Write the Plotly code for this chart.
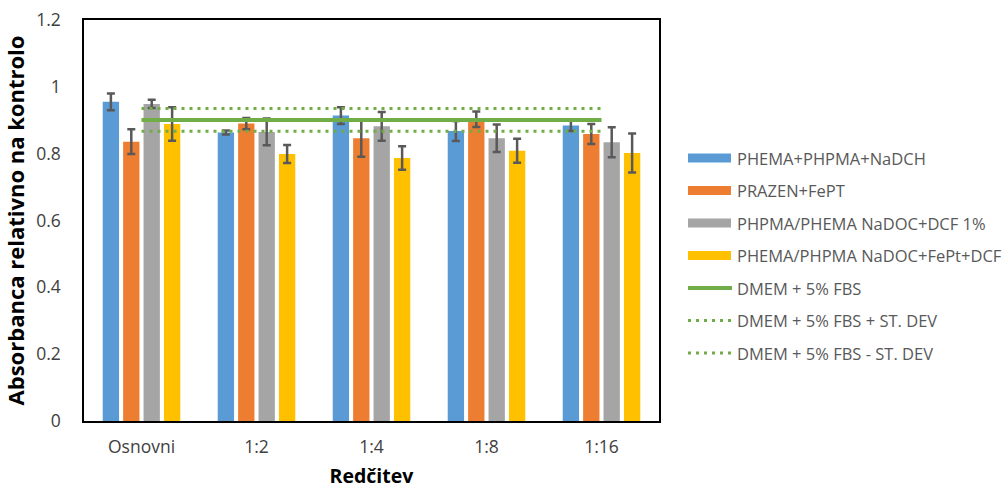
import plotly.graph_objects as go

categories = ["Osnovni", "1:2", "1:4", "1:8", "1:16"]

series_names = [
    "PHEMA+PHPMA+NaDCH",
    "PRAZEN+FePT",
    "PHPMA/PHEMA NaDOC+DCF 1%",
    "PHEMA/PHPMA NaDOC+FePt+DCF",
]
phema_phpma_nadch = [0.955, 0.863, 0.914, 0.868, 0.884]
phema_phpma_nadch_err = [0.025, 0.006, 0.025, 0.030, 0.016]
prazen_fept = [0.836, 0.890, 0.846, 0.903, 0.859]
prazen_fept_err = [0.037, 0.017, 0.055, 0.023, 0.030]
phpma_nadoc_dcf = [0.949, 0.865, 0.882, 0.846, 0.834]
phpma_nadoc_dcf_err = [0.012, 0.040, 0.043, 0.041, 0.045]
phema_nadoc_fept_dcf = [0.889, 0.799, 0.787, 0.809, 0.802]
phema_nadoc_fept_dcf_err = [0.050, 0.027, 0.035, 0.036, 0.058]

line_names = ["DMEM + 5% FBS", "DMEM + 5% FBS + ST. DEV", "DMEM + 5% FBS - ST. DEV"]
dmem = [0.901, 0.901, 0.901, 0.901, 0.901]
dmem_plus = [0.935, 0.935, 0.935, 0.935, 0.935]
dmem_minus = [0.867, 0.867, 0.867, 0.867, 0.867]

y_ticks = [0, 0.2, 0.4, 0.6, 0.8, 1.0, 1.2]
y_ticktext = ["0", "0.2", "0.4", "0.6", "0.8", "1", "1.2"]

bar_colors = ["#5B9BD5", "#ED7D31", "#A5A5A5", "#FFC000"]
line_color = "#70AD47"
err_color = "#595959"
tick_color = "#404040"
FONT = "Open Sans"

W, H = 1005, 489
ML, MR, MT, MB = 84, 346, 20, 68
PW, PH = W - ML - MR, H - MT - MB

fig = go.Figure()
bars = [
    (phema_phpma_nadch, phema_phpma_nadch_err),
    (prazen_fept, prazen_fept_err),
    (phpma_nadoc_dcf, phpma_nadoc_dcf_err),
    (phema_nadoc_fept_dcf, phema_nadoc_fept_dcf_err),
]
for name, (vals, errs), col in zip(series_names, bars, bar_colors):
    fig.add_trace(go.Bar(
        x=categories, y=vals, name=name, showlegend=False,
        marker=dict(color=col, line=dict(width=0)),
        error_y=dict(type="data", array=errs, visible=True,
                     color=err_color, thickness=2.5, width=4),
    ))

line_styles = [dict(width=4, dash="solid"),
               dict(width=3, dash="3px,5px"),
               dict(width=3, dash="3px,5px")]
for name, vals, st in zip(line_names, [dmem, dmem_plus, dmem_minus], line_styles):
    fig.add_trace(go.Scatter(
        x=categories, y=vals, name=name, mode="lines", showlegend=False,
        line=dict(color=line_color, **st),
    ))

# custom legend
def px_x(x):
    return (x - ML) / PW

def px_y(y):
    return (H - MB - y) / PH

legend_y = [158, 190.5, 223, 255.5, 288, 320.5, 353]
shapes = []
annotations = []
all_names = series_names + line_names
for i, (name, yy) in enumerate(zip(all_names, legend_y)):
    if i < 4:
        shapes.append(dict(type="rect", xref="paper", yref="paper",
                           x0=px_x(688), x1=px_x(731), y0=px_y(yy + 4.5), y1=px_y(yy - 4.5),
                           fillcolor=bar_colors[i], line=dict(width=0)))
    else:
        st = line_styles[i - 4]
        shapes.append(dict(type="line", xref="paper", yref="paper",
                           x0=px_x(688), x1=px_x(732), y0=px_y(yy), y1=px_y(yy),
                           line=dict(color=line_color, width=st["width"], dash=st["dash"])))
    annotations.append(dict(text=name, xref="paper", yref="paper",
                            x=px_x(735), y=px_y(yy), xanchor="left", yanchor="middle",
                            showarrow=False, font=dict(family=FONT, size=16.5, color="#595959")))

fig.update_layout(
    width=W, height=H,
    margin=dict(l=ML, r=MR, t=MT, b=MB, autoexpand=False),
    paper_bgcolor="white", plot_bgcolor="white",
    barmode="group", bargap=0.29, bargroupgap=0.2,
    font=dict(family=FONT, color="#000000"),
    shapes=shapes, annotations=annotations,
    xaxis=dict(
        showgrid=False, showline=True, linecolor="black", linewidth=1.5, mirror=True,
        ticks="", tickfont=dict(family=FONT, size=17.5, color=tick_color),
        ticklabelstandoff=9,
        title=dict(text="<b>Redčitev</b>", font=dict(family=FONT, size=19.5, color="#000000"), standoff=18),
    ),
    yaxis=dict(
        range=[0, 1.2], tickvals=y_ticks, ticktext=y_ticktext,
        showgrid=False, showline=True, linecolor="black", linewidth=1.5, mirror=True,
        ticks="", tickfont=dict(family=FONT, size=17.5, color=tick_color),
        ticklabelstandoff=18, zeroline=False,
        title=dict(text="<b>Absorbanca relativno na kontrolo</b>",
                   font=dict(family=FONT, size=22, color="#000000"), standoff=10),
    ),
)

fig.write_html("out.html")
